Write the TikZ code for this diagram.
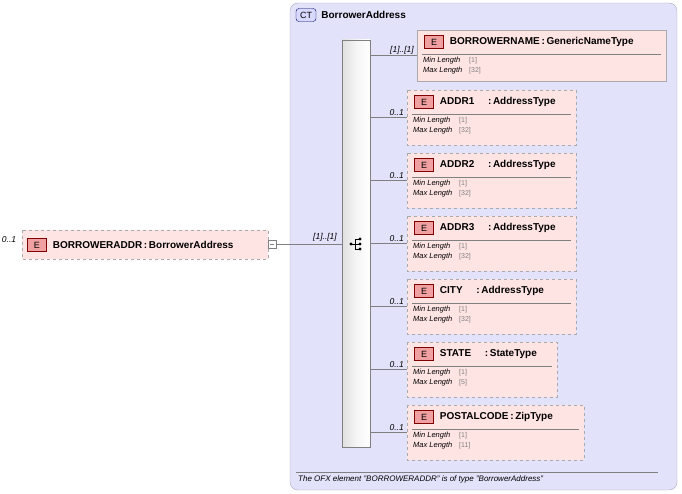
\documentclass[tikz,border=0pt]{standalone}
\usepackage{fontspec}
\setmainfont{Liberation Sans}
\setsansfont{Liberation Sans}
\usepackage{tikz}
\usetikzlibrary{positioning}
\definecolor{ctfill}{RGB}{226,226,250}
\definecolor{ctline}{RGB}{170,170,190}
\definecolor{elfill}{RGB}{255,228,228}
\definecolor{elline}{RGB}{170,170,170}
\definecolor{badge}{RGB}{240,160,160}
\tikzset{
  elem/.style={draw=elline,fill=elfill},
  opt/.style={elem,dashed},
  badgebox/.style={draw=red!50!black,fill=badge,minimum width=19pt,minimum height=13pt,inner sep=0pt,font=\fontsize{9}{10}\selectfont\sffamily},
  card/.style={font=\fontsize{8.5}{9}\selectfont\itshape\sffamily,inner sep=1pt},
  small/.style={font=\fontsize{7.5}{8}\selectfont\itshape\sffamily,inner sep=0pt,anchor=west},
  val/.style={font=\fontsize{7}{8}\selectfont\sffamily,text=gray,inner sep=0pt,anchor=west},
  title/.style={font=\fontsize{10}{11}\selectfont\bfseries\sffamily,inner sep=0pt,anchor=west}
}
\begin{document}
\begin{tikzpicture}[x=1pt,y=-1pt]
\useasboundingbox (0,0) rectangle (682,494);
% complex type
\draw[ctline,fill=ctfill,rounded corners=8] (290,3) rectangle (677,490);
\node[draw=blue!40!black,fill=blue!15,rounded corners=3,minimum width=20pt,minimum height=13pt,inner sep=0pt,font=\fontsize{9}{10}\selectfont\sffamily] (ct) at (306,15) {CT};
\node[title,right=5pt of ct] (cttitle) {BorrowerAddress};
\draw[gray] (296,472) -- (658,472);
\node[small,font=\fontsize{8}{9}\selectfont\itshape\sffamily] (note) at (298,479) {The OFX element "BORROWERADDR" is of type "BorrowerAddress"};
% sequence
\draw[gray,left color=gray!25,right color=white,middle color=gray!8] (342,40) rectangle (370,447);
\node (seq) at (356,244) {};
\fill (351,244) circle (1.6);
\draw (351,244) -- (355,244) (355,239) -- (355,249);
\foreach \y in {239,244,249} {\draw (355,\y) -- (360,\y); \fill (360,\y) circle (1.6);}
% main element
\draw[opt] (22,230) rectangle (268,259);
\node[badgebox] (mainbadge) at (37,245) {E};
\node[title,right=6pt of mainbadge] (main) {BORROWERADDR\,:\,BorrowerAddress};
\node[card] at (9,240) {0..1};
\draw[gray,fill=white] (268,240) rectangle (276,248);
\draw[gray] (270,244) -- (274,244);
\coordinate (mainout) at (276,244);
\coordinate (seqin) at (342,244);
\draw[gray] (mainout) -- (seqin);
\node[card] at (325,237) {[1]..[1]};
% children
\foreach \name/\type/\top/\right/\maxl/\card/\sty [count=\i] in {
  BORROWERNAME/GenericNameType/30/666/32/{[1]..[1]}/elem,
  ADDR1/AddressType/90/576/32/0..1/opt,
  ADDR2/AddressType/153/576/32/0..1/opt,
  ADDR3/AddressType/216/576/32/0..1/opt,
  CITY/AddressType/279/576/32/0..1/opt,
  STATE/StateType/342/557/5/0..1/opt,
  POSTALCODE/ZipType/405/584/11/0..1/opt} {
  \pgfmathsetmacro{\left}{\i==1 ? 417 : 407}
  \pgfmathsetmacro{\bot}{\top+(\i==1 ? 51 : 55)}
  \pgfmathsetmacro{\mid}{\top+(\i==1 ? 25 : 27)}
  \draw[\sty] (\left,\top) rectangle (\right,\bot);
  \node[badgebox] (b\i) at (\left+17,\top+12) {E};
  \node[title,right=6pt of b\i] (t\i) {\name\ifnum\i>1\relax\ifnum\i<7\hspace{1.2em}\fi\fi\,:\,\type};
  \draw[gray] (\left+5,\top+24) -- (\right-5,\top+24);
  \node[small] at (\left+6,\top+31) {Min Length};
  \node[small] at (\left+6,\top+41) {Max Length};
  \node[val] at (\left+52,\top+31) {[1]};
  \node[val] at (\left+52,\top+41) {[\maxl]};
  \coordinate (in\i) at (\left,\mid);
  \coordinate (out\i) at (370,\mid);
  \draw[gray] (out\i) -- (in\i);
  \node[card,anchor=south east] at (\left-2,\mid) {\card};
}
\end{tikzpicture}
\end{document}
